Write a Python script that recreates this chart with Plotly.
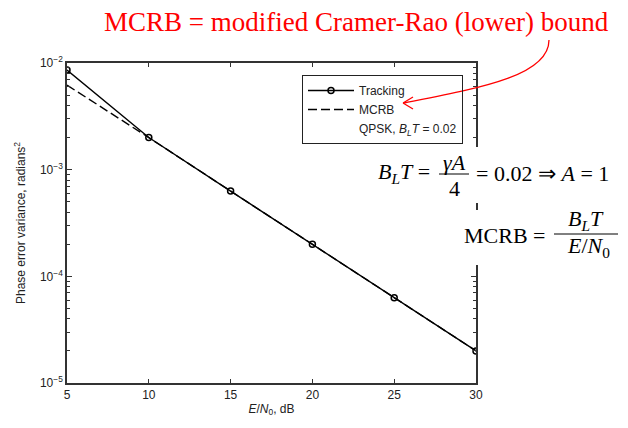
import plotly.graph_objects as go

# ---- data ----
ebn0_db = [5, 10, 15, 20, 25, 30]
tracking = [8.6e-3, 2.0e-3, 6.3e-4, 2.0e-4, 6.3e-5, 2.0e-5]
mcrb = [6.2e-3, 2.0e-3, 6.3e-4, 2.0e-4, 6.3e-5, 2.0e-5]
y_tick_vals = [1e-5, 1e-4, 1e-3, 1e-2]
y_tick_text = ["10<sup>−5</sup>", "10<sup>−4</sup>", "10<sup>−3</sup>", "10<sup>−2</sup>"]
x_tick_vals = [5, 10, 15, 20, 25, 30]
y_minor_vals = [m * 10.0 ** e for e in (-5, -4, -3) for m in range(2, 10)]

W_FIG, H_FIG = 628, 428
L, R, T, B = 67, 476, 63, 383


def px(x):
    return (x - L) / (R - L)


def py(y):
    return (B - y) / (B - T)


SANS = "Liberation Sans, Arial, Helvetica, sans-serif"
SERIF = "Liberation Serif, Times New Roman, serif"

fig = go.Figure()
fig.add_trace(go.Scatter(
    x=ebn0_db, y=tracking, mode="lines+markers", name="Tracking",
    line=dict(color="black", width=1.4),
    marker=dict(symbol="circle-open", size=6, color="black", line=dict(width=1.5)),
))
fig.add_trace(go.Scatter(
    x=ebn0_db, y=mcrb, mode="lines", name="MCRB",
    line=dict(color="black", width=1.4, dash="9px,4px"),
))
fig.add_trace(go.Scatter(
    x=[None], y=[None], mode="lines", name="QPSK, <i>B<sub>L</sub>T</i> = 0.02",
    line=dict(color="rgba(0,0,0,0)", width=0),
))

fig.update_layout(
    width=W_FIG, height=H_FIG,
    margin=dict(l=L, r=W_FIG - R, t=T, b=H_FIG - B),
    paper_bgcolor="white", plot_bgcolor="white",
    font=dict(family=SANS, size=12, color="#222"),
    showlegend=True,
    legend=dict(
        x=px(463), y=py(75), xanchor="right", yanchor="top",
        bordercolor="#222", borderwidth=1, bgcolor="rgba(255,255,255,0)",
        font=dict(family=SANS, size=12, color="#222"),
        itemwidth=46,
    ),
)
fig.update_xaxes(
    range=[5, 30], tickvals=x_tick_vals, ticks="inside", ticklen=4,
    tickcolor="#333", linecolor="#333", linewidth=1.5, mirror="ticks",
    showgrid=False, zeroline=False,
    tickfont=dict(family=SANS, size=12, color="#222"),
    title=dict(text="<i>E</i>/<i>N</i><sub>0</sub>, dB", font=dict(family=SANS, size=12), standoff=3),
)
fig.update_yaxes(
    type="log", range=[-5, -2], tickvals=y_tick_vals, ticktext=y_tick_text,
    ticks="inside", ticklen=5, tickcolor="#333", linecolor="#333", linewidth=1.5,
    mirror="ticks", showgrid=False, zeroline=False,
    minor=dict(tickvals=y_minor_vals, ticks="inside", ticklen=3, tickcolor="#333"),
    tickfont=dict(family=SANS, size=12, color="#222"),
    title=dict(text="Phase error variance, radians<sup>2</sup>", font=dict(family=SANS, size=12), standoff=12),
)

shapes = []
annotations = []

# white boxes behind equations (cover the right axis)
shapes.append(dict(type="rect", xref="paper", yref="paper", x0=px(362), x1=px(628),
                   y0=py(203), y1=py(147), fillcolor="white", line=dict(width=0), layer="above"))
shapes.append(dict(type="rect", xref="paper", yref="paper", x0=px(440), x1=px(628),
                   y0=py(265), y1=py(210), fillcolor="white", line=dict(width=0), layer="above"))

# red title
annotations.append(dict(xref="paper", yref="paper", x=px(356), y=py(22), xanchor="center", yanchor="middle",
                        text="MCRB = modified Cramer-Rao (lower) bound", showarrow=False,
                        font=dict(family=SERIF, size=27, color="red")))

# red curved arrow
p0, p1, p2, p3 = (549, 40), (549, 76), (480, 88), (404, 103)
path = "M {} {} C {} {} {} {} {} {}".format(px(p0[0]), py(p0[1]), px(p1[0]), py(p1[1]),
                                            px(p2[0]), py(p2[1]), px(p3[0]), py(p3[1]))
shapes.append(dict(type="path", xref="paper", yref="paper", path=path,
                   line=dict(color="red", width=1.3), layer="above"))
for hx, hy in [(413, 97), (413, 109)]:
    shapes.append(dict(type="line", xref="paper", yref="paper", x0=px(403), y0=py(103),
                       x1=px(hx), y1=py(hy), line=dict(color="red", width=1.3), layer="above"))

EQ = dict(family=SERIF, size=22, color="black")


def txt(x, y, s, anchor="center"):
    annotations.append(dict(xref="paper", yref="paper", x=px(x), y=py(y), xanchor=anchor,
                            yanchor="middle", text=s, showarrow=False, font=EQ))


def fline(x0, x1, y):
    shapes.append(dict(type="line", xref="paper", yref="paper", x0=px(x0), x1=px(x1),
                       y0=py(y), y1=py(y), line=dict(color="black", width=1), layer="above"))


# equation 1
txt(432, 173, "<i>B<sub>L</sub>T</i> =", "right")
txt(454, 162, "<i>γA</i>")
fline(439, 469, 174)
txt(454, 188, "4")
txt(474, 173, "= 0.02 ⇒ <i>A</i> = 1", "left")

# equation 2
txt(548, 235, "MCRB =", "right")
txt(586, 220, "<i>B<sub>L</sub>T</i>")
fline(554, 618, 234)
txt(588, 247, "<i>E</i>/<i>N</i><sub>0</sub>")

fig.update_layout(shapes=shapes, annotations=annotations)
fig.write_html("out.html")
